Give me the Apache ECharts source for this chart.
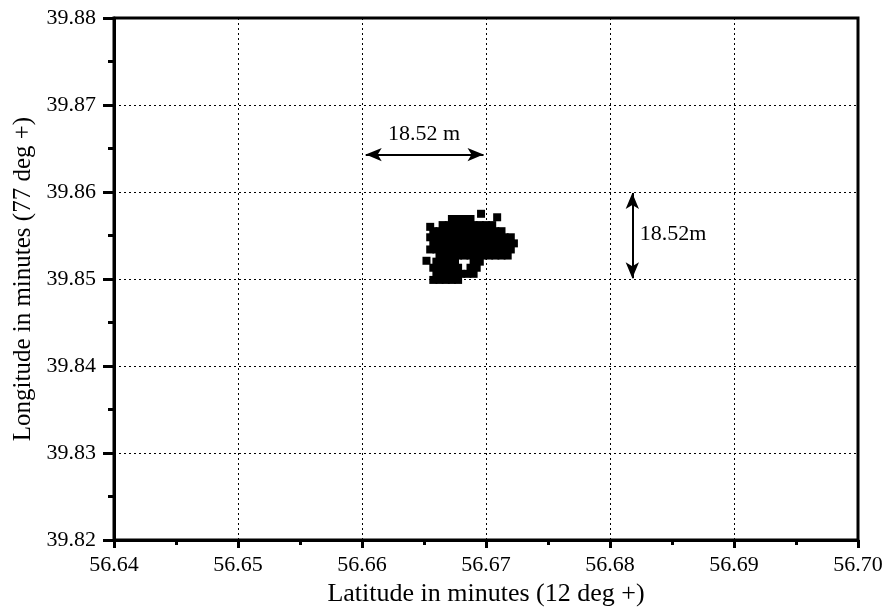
<!DOCTYPE html>
<html><head><meta charset="utf-8">
<script src="https://cdn.jsdelivr.net/npm/echarts@6/dist/echarts.min.js"></script>
<style>html,body{margin:0;padding:0;background:#fff}#c{width:886px;height:612px}</style>
</head><body><div id="c"></div>
<script>
// Axis ranges / ticks
const xTicks = [56.64, 56.65, 56.66, 56.67, 56.68, 56.69, 56.70];
const yTicks = [39.82, 39.83, 39.84, 39.85, 39.86, 39.87, 39.88];
const xTitle = 'Latitude in minutes (12 deg +)';
const yTitle = 'Longitude in minutes (77 deg +)';

// GPS fixes, grouped by longitude row: each row lists the latitudes
const rowLongitudes = [39.8569, 39.8562, 39.8555, 39.8548, 39.8541, 39.8534, 39.8527, 39.8520, 39.8513, 39.8506, 39.8499];
const rowLatitudes = [
  [56.66725, 56.66775, 56.66825, 56.66875],
  [56.6665, 56.6670, 56.6675, 56.6680, 56.6685, 56.6690, 56.6695, 56.6700, 56.6705],
  [56.66575, 56.66625, 56.66675, 56.66725, 56.66775, 56.66825, 56.66875, 56.66925, 56.66975, 56.67025, 56.67075, 56.67125],
  [56.6655, 56.6660, 56.6665, 56.6670, 56.6675, 56.6680, 56.6685, 56.6690, 56.6695, 56.6700, 56.6705, 56.6710, 56.6715, 56.6720],
  [56.66575, 56.66625, 56.66675, 56.66725, 56.66775, 56.66825, 56.66875, 56.66925, 56.66975, 56.67025, 56.67075, 56.67125, 56.67175, 56.67225],
  [56.6655, 56.6660, 56.6665, 56.6670, 56.6675, 56.6680, 56.6685, 56.6690, 56.6695, 56.6700, 56.6705, 56.6710, 56.6715, 56.6720],
  [56.66625, 56.66675, 56.66725, 56.66775, 56.66825, 56.66875, 56.66925, 56.66975, 56.67025, 56.67075, 56.67125, 56.67175],
  [56.6660, 56.6665, 56.6670, 56.6675, 56.6690, 56.6695],
  [56.66575, 56.66625, 56.66675, 56.66725, 56.66775, 56.66875, 56.66925],
  [56.6660, 56.6665, 56.6670, 56.6675, 56.6680, 56.6685, 56.6690],
  [56.66575, 56.66625, 56.66675, 56.66725, 56.66775]
];
// Isolated fixes around the cluster [latitude, longitude]
const outlierPoints = [[56.6696, 39.8575], [56.6709, 39.8571], [56.6655, 39.8560], [56.6652, 39.8521]];

// Scale annotations
const hArrow = [[56.6603, 39.8643], [56.6698, 39.8643]];
const vArrow = [[56.6818, 39.8599], [56.6818, 39.8501]];
const annoLabels = [['18.52 m', 56.6650, 39.8666, 'center'], ['18.52m', 56.6824, 39.8551, 'left']];

const points = [];
rowLongitudes.forEach((lon, k) => rowLatitudes[k].forEach(lat => points.push([lat, lon])));
outlierPoints.forEach(p => points.push(p));

const font = 'Liberation Serif';
const chart = echarts.init(document.getElementById('c'));
const axisCommon = {
  type: 'value',
  axisLine: { show: true, onZero: false, lineStyle: { color: '#000', width: 3 } },
  splitLine: { show: true, lineStyle: { color: '#000', width: 1, type: [2, 3] } },
};
chart.setOption({
  animation: false,
  backgroundColor: '#fff',
  grid: { left: 114, right: 28, top: 18, bottom: 67, show: true, borderColor: '#000', borderWidth: 3, backgroundColor: 'transparent' },
  xAxis: Object.assign({}, axisCommon, {
    min: xTicks[0], max: xTicks[xTicks.length - 1], interval: 0.01,
    name: xTitle, nameLocation: 'middle', nameGap: 30,
    nameTextStyle: { fontFamily: font, fontSize: 26, color: '#000' },
    axisTick: { show: true, length: 8, lineStyle: { color: '#000', width: 3 } },
    minorTick: { show: true, splitNumber: 2, length: 5, lineStyle: { color: '#000', width: 3 } },
    axisLabel: { fontFamily: font, fontSize: 22, color: '#000', margin: 14, showMinLabel: true, showMaxLabel: true,
      formatter: v => v.toFixed(2) }
  }),
  yAxis: Object.assign({}, axisCommon, {
    min: yTicks[0], max: yTicks[yTicks.length - 1], interval: 0.01,
    name: yTitle, nameLocation: 'middle', nameGap: 73,
    nameTextStyle: { fontFamily: font, fontSize: 25, color: '#000' },
    axisTick: { show: true, length: 11, lineStyle: { color: '#000', width: 3 } },
    minorTick: { show: true, splitNumber: 2, length: 6, lineStyle: { color: '#000', width: 3 } },
    axisLabel: { fontFamily: font, fontSize: 22, color: '#000', margin: 18, showMinLabel: true, showMaxLabel: true,
      formatter: v => v.toFixed(2) }
  }),
  series: [
    {
      type: 'scatter', data: points, symbol: 'rect', symbolSize: 8,
      itemStyle: { color: '#000', opacity: 1 }, z: 5,
      markLine: {
        silent: true, symbol: ['arrow', 'arrow'], symbolSize: [10, 16], precision: 6,
        lineStyle: { color: '#000', width: 2, type: 'solid', opacity: 1 },
        label: { show: false },
        data: [
          [{ coord: hArrow[0] }, { coord: hArrow[1] }],
          [{ coord: vArrow[0] }, { coord: vArrow[1] }]
        ]
      }
    },
    {
      type: 'scatter', symbolSize: 0, silent: true, itemStyle: { opacity: 1, color: '#000' },
      data: annoLabels.map(a => ({ name: a[0], value: [a[1], a[2]], label: { align: a[3] } })),
      label: { show: true, position: 'inside', formatter: p => p.name, fontFamily: font, fontSize: 22, color: '#000', opacity: 1 }
    }
  ]
});
</script></body></html>
